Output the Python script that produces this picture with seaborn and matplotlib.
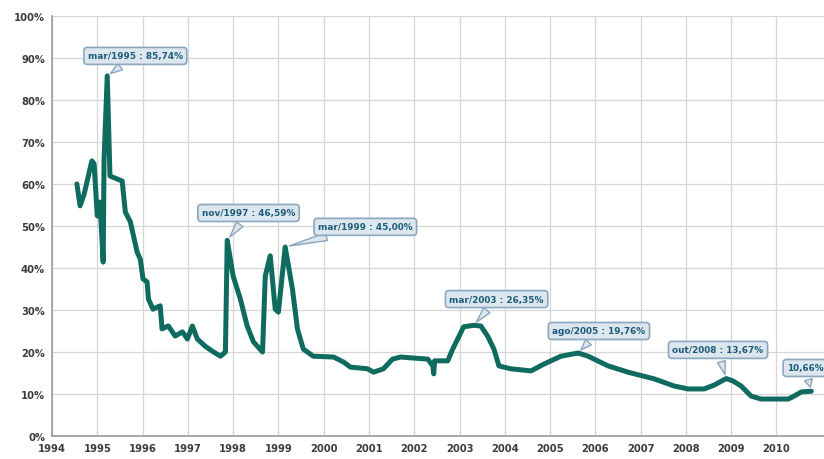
import matplotlib
matplotlib.use("Agg")
import matplotlib.pyplot as plt
import seaborn as sns
import pandas as pd

# Taxa Selic efetiva (% a.a.), em anos decimais
anos = [
    1994.55, 1994.62, 1994.71, 1994.88, 1994.93, 1995.00, 1995.06, 1995.13,
    1995.15, 1995.22, 1995.28, 1995.55, 1995.62, 1995.73, 1995.79, 1995.88,
    1995.95, 1996.01, 1996.10, 1996.13, 1996.23, 1996.39, 1996.43, 1996.57,
    1996.72, 1996.88, 1996.99, 1997.10, 1997.21, 1997.38, 1997.54, 1997.72,
    1997.83, 1997.87, 1998.00, 1998.16, 1998.31, 1998.45, 1998.65, 1998.71,
    1998.82, 1998.93, 1999.00, 1999.15, 1999.31, 1999.42, 1999.55, 1999.77,
    2000.22, 2000.44, 2000.59, 2000.97, 2001.10, 2001.32, 2001.52, 2001.70,
    2002.30, 2002.41, 2002.43, 2002.45, 2002.74, 2002.85, 2002.96, 2003.09,
    2003.31, 2003.47, 2003.62, 2003.76, 2003.87, 2004.13, 2004.58, 2004.86,
    2005.24, 2005.62, 2005.84, 2006.28, 2006.72, 2007.30, 2007.74, 2008.05,
    2008.40, 2008.62, 2008.89, 2009.04, 2009.22, 2009.44, 2009.66, 2010.26,
    2010.39, 2010.55, 2010.77,
]
selic = [
    60.0, 54.8, 57.6, 65.5, 64.8, 52.4, 55.7, 41.4,
    66.0, 85.74, 61.9, 60.7, 53.3, 51.0, 48.1, 43.8,
    42.1, 37.4, 36.7, 32.6, 30.2, 31.0, 25.5, 26.2,
    23.8, 24.8, 23.1, 26.2, 23.1, 21.4, 20.2, 19.0,
    20.0, 46.59, 38.1, 32.6, 26.2, 22.4, 20.0, 38.1,
    42.9, 30.2, 29.5, 45.0, 35.0, 25.5, 20.7, 19.0,
    18.8, 17.6, 16.4, 16.0, 15.2, 16.0, 18.3, 18.8,
    18.3, 16.7, 14.8, 17.9, 17.9, 20.7, 23.1, 26.0,
    26.35, 26.2, 23.8, 20.7, 16.7, 16.0, 15.5, 17.1,
    19.0, 19.76, 19.0, 16.7, 15.2, 13.6, 11.9, 11.2,
    11.2, 12.1, 13.67, 13.1, 11.9, 9.5, 8.8, 8.8,
    9.5, 10.5, 10.66,
]

# Destaques: rótulo, ponto marcado e posição da caixa
rotulos = ["mar/1995 : 85,74%", "nov/1997 : 46,59%", "mar/1999 : 45,00%",
           "mar/2003 : 26,35%", "ago/2005 : 19,76%", "out/2008 : 13,67%",
           "10,66%"]
rotulo_x = [1995.22, 1997.87, 1999.15, 2003.31, 2005.62, 2008.89, 2010.77]
rotulo_y = [85.74, 46.59, 45.0, 26.35, 19.76, 13.67, 10.66]
caixa_x = [1995.84, 1998.34, 2000.92, 2003.82, 2006.08, 2008.71, 2010.64]
caixa_y = [90.5, 53.1, 49.8, 32.6, 25.0, 20.5, 16.2]

anos_ticks = list(range(1994, 2011))
pct_ticks = list(range(0, 101, 10))

df = pd.DataFrame({"ano": anos, "selic": selic})

sns.set_style("whitegrid")
plt.rcParams["font.family"] = ["DejaVu Sans"]

fig = plt.figure(figsize=(8.24, 4.60), dpi=100)
ax = fig.add_axes([52 / 824, 23 / 460, 772 / 824, 420 / 460])

sns.lineplot(data=df, x="ano", y="selic", ax=ax, color="#0f6b5f",
             linewidth=3.6, solid_joinstyle="round", solid_capstyle="round")

ax.set_xlim(1994, 2011.05)
ax.set_ylim(0, 100)
ax.set_xticks(anos_ticks)
ax.set_xticklabels([str(a) for a in anos_ticks])
ax.set_yticks(pct_ticks)
ax.set_yticklabels([f"{p}%" for p in pct_ticks])
ax.set_xlabel("")
ax.set_ylabel("")

ax.grid(True, color="#d6d6d6", linewidth=0.9)
for lado in ["top", "right"]:
    ax.spines[lado].set_visible(False)
for lado in ["left", "bottom"]:
    ax.spines[lado].set_visible(True)
    ax.spines[lado].set_color("#9a9a9a")
    ax.spines[lado].set_linewidth(1.2)

ax.tick_params(axis="both", length=0, labelsize=7.2, labelcolor="#3c3c3c", pad=5)
for lbl in ax.get_xticklabels() + ax.get_yticklabels():
    lbl.set_fontweight("bold")

for txt, px, py, bx, by in zip(rotulos, rotulo_x, rotulo_y, caixa_x, caixa_y):
    ax.annotate(
        txt, xy=(px, py), xytext=(bx, by), textcoords="data",
        ha="center", va="center", fontsize=6.4, fontweight="bold",
        color="#1d5c78", annotation_clip=False,
        bbox=dict(boxstyle="round,pad=0.45,rounding_size=0.4",
                  fc="#dbe6ef", ec="#8ba6bd", lw=1.2),
        arrowprops=dict(arrowstyle="wedge,tail_width=0.9,shrink_factor=0.5",
                        fc="#dbe6ef", ec="#8ba6bd", lw=1.0, shrinkB=3),
        zorder=5,
    )

fig.savefig("out.png", dpi=100)
